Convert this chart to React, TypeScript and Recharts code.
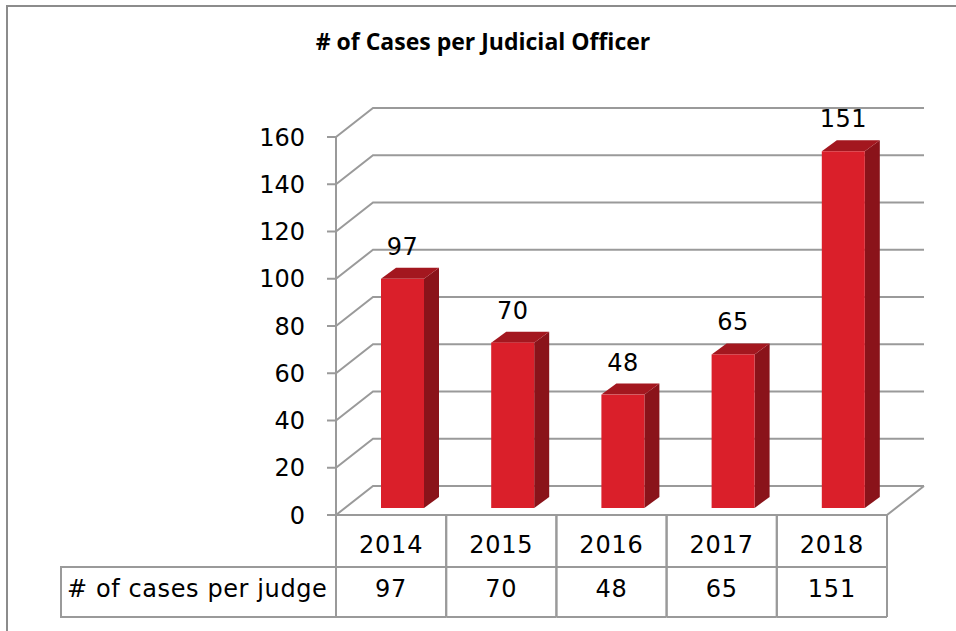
import { ComposedChart, Bar, XAxis, YAxis, CartesianGrid, LabelList } from 'recharts'

const years = ['2014', '2015', '2016', '2017', '2018']
const casesPerJudge = [97, 70, 48, 65, 151]
const yTicks = [0, 20, 40, 60, 80, 100, 120, 140, 160]
const seriesName = '# of cases per judge'
const title = '# of Cases per Judicial Officer'

const data = years.map((year, i) => ({ year, cases: casesPerJudge[i] }))

// layout
const W = 956
const H = 631
const PLOT_LEFT = 336
const PLOT_RIGHT = 887
const PLOT_TOP = 137
const PLOT_BOTTOM = 515
const BAND = (PLOT_RIGHT - PLOT_LEFT) / years.length

// fake 3d offsets
const WALL_DX = 37
const WALL_DY = -29
const BAR_SHIFT_X = 11
const BAR_SHIFT_Y = -7
const DEPTH_X = 15
const DEPTH_Y = -11

const GRID = '#9a9a9a'
const FONT = '"DejaVu Sans", sans-serif'

const renderGridLine = (props: any) => {
  const { x1, y1, x2, key } = props
  const isFloor = Math.abs(y1 - PLOT_BOTTOM) < 1
  return (
    <g key={key}>
      <polyline
        points={`${x1},${y1} ${x1 + WALL_DX},${y1 + WALL_DY} ${x2 + WALL_DX},${y1 + WALL_DY}`}
        fill="none" stroke={GRID} strokeWidth={2}
      />
      {isFloor && (
        <polyline
          points={`${x1},${y1} ${x2},${y1} ${x2 + WALL_DX},${y1 + WALL_DY}`}
          fill="none" stroke={GRID} strokeWidth={2}
        />
      )}
    </g>
  )
}

const Bar3D = (props: any) => {
  const { x, y, width, height } = props
  if (width == null || height == null) return null
  const fx = x + BAR_SHIFT_X
  const fy = y + BAR_SHIFT_Y
  const w = width
  const h = height
  return (
    <g>
      <polygon
        points={`${fx + w},${fy} ${fx + w + DEPTH_X},${fy + DEPTH_Y} ${fx + w + DEPTH_X},${fy + h + DEPTH_Y} ${fx + w},${fy + h}`}
        fill="#8a131a"
      />
      <polygon
        points={`${fx},${fy} ${fx + DEPTH_X},${fy + DEPTH_Y} ${fx + w + DEPTH_X},${fy + DEPTH_Y} ${fx + w},${fy}`}
        fill="#a3171f"
      />
      <rect x={fx} y={fy} width={w} height={h} fill="#da1f2a" />
    </g>
  )
}

const renderValueLabel = (props: any) => {
  const { x, y, width, value } = props
  return (
    <text x={x + width / 2 + BAR_SHIFT_X} y={y + BAR_SHIFT_Y - 24} textAnchor="middle"
      fontFamily={FONT} fontSize={24} letterSpacing={0.5} fill="#000">
      {value}
    </text>
  )
}

// x axis ticks draw the data table underneath
const renderTableCell = (props: any) => {
  const { x, payload, index } = props
  const left = x - BAND / 2
  const right = x + BAND / 2
  const rowMid = 567
  const bottom = 617
  const i = payload?.index ?? index
  return (
    <g>
      {i === 0 && (
        <g>
          <polyline points={`${left},${rowMid} 61,${rowMid} 61,${bottom} ${left},${bottom}`}
            fill="none" stroke={GRID} strokeWidth={2} />
          <text x={67} y={597} fontFamily={FONT} fontSize={24} letterSpacing={0.6} fill="#000">{seriesName}</text>
        </g>
      )}
      <line x1={left} y1={PLOT_BOTTOM} x2={left} y2={bottom} stroke={GRID} strokeWidth={2} />
      <line x1={right} y1={PLOT_BOTTOM} x2={right} y2={bottom} stroke={GRID} strokeWidth={2} />
      <line x1={left} y1={rowMid} x2={right} y2={rowMid} stroke={GRID} strokeWidth={2} />
      <line x1={left} y1={bottom} x2={right} y2={bottom} stroke={GRID} strokeWidth={2} />
      <text x={x} y={553} textAnchor="middle" fontFamily={FONT} fontSize={24} letterSpacing={0.8} fill="#000">{payload.value}</text>
      <text x={x} y={597} textAnchor="middle" fontFamily={FONT} fontSize={24} letterSpacing={0.8} fill="#000">{casesPerJudge[i]}</text>
    </g>
  )
}

export default function App() {
  return (
    <div style={{ position: 'relative', width: W, height: H, overflow: 'hidden', background: '#fff' }}>
      <style>{'body{margin:0}'}</style>
      <div style={{
        position: 'absolute', left: 6, top: 5, width: 2000, height: 2000,
        borderLeft: '2px solid #8c8c8c', borderTop: '2px solid #8c8c8c'
      }} />
      <div style={{
        position: 'absolute', left: 0, top: 25, width: 966, textAlign: 'center',
        fontFamily: '"Open Sans", sans-serif', fontWeight: 700, fontSize: 23, color: '#000'
      }}>
        {title}
      </div>
      <div style={{ position: 'absolute', left: 0, top: 0 }}>
        <ComposedChart width={W} height={H} data={data}
          margin={{ top: PLOT_TOP, right: W - PLOT_RIGHT, bottom: 0, left: 0 }}>
          <CartesianGrid vertical={false} horizontal={renderGridLine} />
          <XAxis dataKey="year" height={H - PLOT_BOTTOM} axisLine={false} tickLine={false}
            interval={0} tick={renderTableCell} />
          <YAxis width={PLOT_LEFT} domain={[0, 160]} ticks={yTicks} interval={0}
            axisLine={{ stroke: GRID, strokeWidth: 2 }}
            tickLine={{ stroke: GRID, strokeWidth: 2 }} tickSize={9} tickMargin={22}
            tick={{ fontFamily: FONT, fontSize: 24, fill: '#000' }} />
          <Bar dataKey="cases" barSize={43} shape={Bar3D} isAnimationActive={false}>
            <LabelList dataKey="cases" content={renderValueLabel} />
          </Bar>
        </ComposedChart>
      </div>
    </div>
  )
}
